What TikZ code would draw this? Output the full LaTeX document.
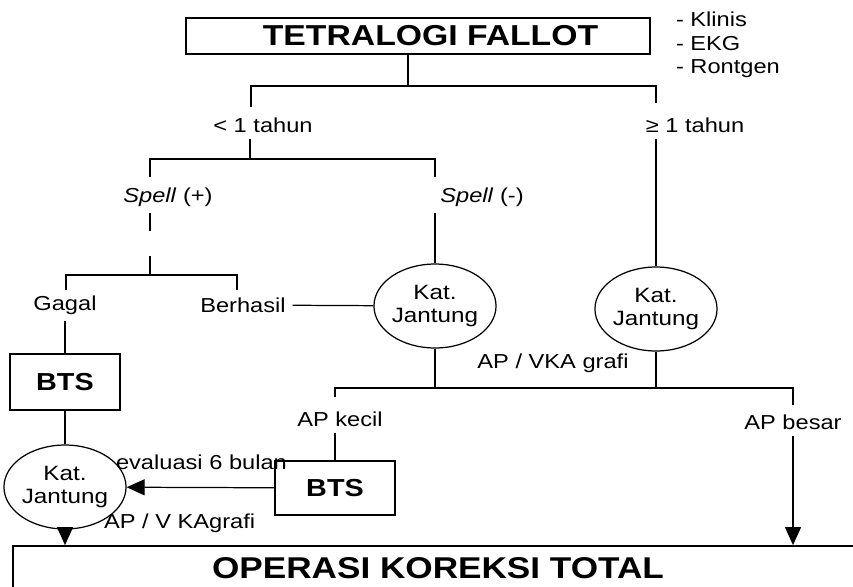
\documentclass[tikz,border=0pt]{standalone}
\usepackage{fontspec}
\setmainfont[FakeStretch=1.17]{Liberation Sans}
\usetikzlibrary{shapes.geometric,arrows.meta}

\begin{document}
\begin{tikzpicture}[x=0.02cm,y=-0.02cm,line width=0.7pt,
        txt/.style={font=\fontsize{11.5}{13.5}\selectfont,inner sep=1pt,outer sep=3pt},
        kat/.style={draw,ellipse,align=center,inner sep=0pt,minimum width=1.92cm,minimum height=1.68cm,font=\fontsize{11.8}{13}\selectfont},
        box/.style={draw,line width=1pt,inner sep=0pt},
        tip/.style={-{Triangle[length=3.6mm,width=3.2mm]}}]
        \useasboundingbox (0,0) rectangle (853,586);
        \clip (0,0) rectangle (853,586);
        % top of the tree
        \node[box,minimum width=9.28cm,minimum height=0.72cm,font=\fontsize{16.4}{19}\bfseries\selectfont] (tof) at (418,36) {\hspace{0.5cm}TETRALOGI FALLOT};
        \node[txt,anchor=west,align=left] (diag) at (669,45) {- Klinis\\- EKG\\- Rontgen};
        \node[txt] (lt1) at (263,125) {< 1 tahun};
        \node[txt] (ge1) at (695,125) {≥ 1 tahun};
        \node[txt] (spp) at (168,197) {\textit{Spell} (+)};
        \node[txt] (spm) at (482,197) {\textit{Spell} (-)};
        \node[txt] (gagal) at (65,305) {Gagal};
        \node[txt] (berhasil) at (243,305) {Berhasil};
        \node[kat] (katA) at (435,306) {Kat.\\Jantung};
        \node[kat] (katB) at (656,309) {Kat.\\Jantung};
        \node[txt] (apvka) at (553,363) {AP / VKA grafi};
        \node[txt] (apkecil) at (340,419) {AP kecil};
        \node[txt] (apbesar) at (793,422) {AP besar};
        \node[box,minimum width=2.2cm,minimum height=1.12cm,font=\fontsize{14}{16}\bfseries\selectfont] (btsA) at (65,382) {BTS};
        \node[box,minimum width=2.4cm,minimum height=1.08cm,font=\fontsize{14}{16}\bfseries\selectfont] (btsB) at (335,488) {BTS};
        \node[kat] (katC) at (65,487) {Kat.\\Jantung};
        \node[txt,anchor=west] (eval) at (109,462) {evaluasi 6 bulan};
        \node[txt,anchor=west] (apvk) at (97,523) {AP / V KAgrafi};
        \node[box,minimum width=17cm,minimum height=0.88cm,font=\fontsize{17.1}{21}\bfseries\selectfont] (ops) at (438,568) {OPERASI KOREKSI TOTAL};
        % brackets
        \coordinate (age) at (408,86);
        \coordinate (l1) at (251,107);
        \coordinate (r1) at (656,103);
        \draw (tof.south -| age) -- (age);
        \draw (l1) |- (age) -| (r1);
        \coordinate (b2) at (250,159);
        \coordinate (sp1) at (150,177);
        \coordinate (sm1) at (435,177);
        \draw (lt1.south -| b2) -- (b2);
        \draw (sp1) |- (b2) -| (sm1);
        \coordinate (b3) at (150,275);
        \coordinate (g1) at (66,290);
        \coordinate (h1) at (237,290);
        \draw (spp.south -| b3) -- ++(0,18);
        \draw (b3) -- ++(0,-19);
        \draw (g1) |- (b3) -| (h1);
        \draw (spm.south -| katA) -- (katA.north);
        \draw (ge1.south -| katB) -- (katB.north);
        \draw (berhasil) -- (katA);
        \draw (gagal.south) -- (btsA.north);
        \draw (btsA) -- (katC);
        % lower part
        \coordinate (b4) at (435,388);
        \coordinate (k1) at (335,397);
        \coordinate (k2) at (793,405);
        \draw (katA.south) -- (b4);
        \draw (k1) |- (katB.south |- b4) -- (katB.south);
        \draw (b4) -| (k2);
        \draw (apkecil.south -| btsB) -- (btsB.north);
        \draw[tip] (apbesar.south) -- (apbesar.south |- ops.north);
        \draw[tip] (btsB) -- (katC);
        \draw[tip] (katC) -- (katC |- ops.north);
\end{tikzpicture}
\end{document}
